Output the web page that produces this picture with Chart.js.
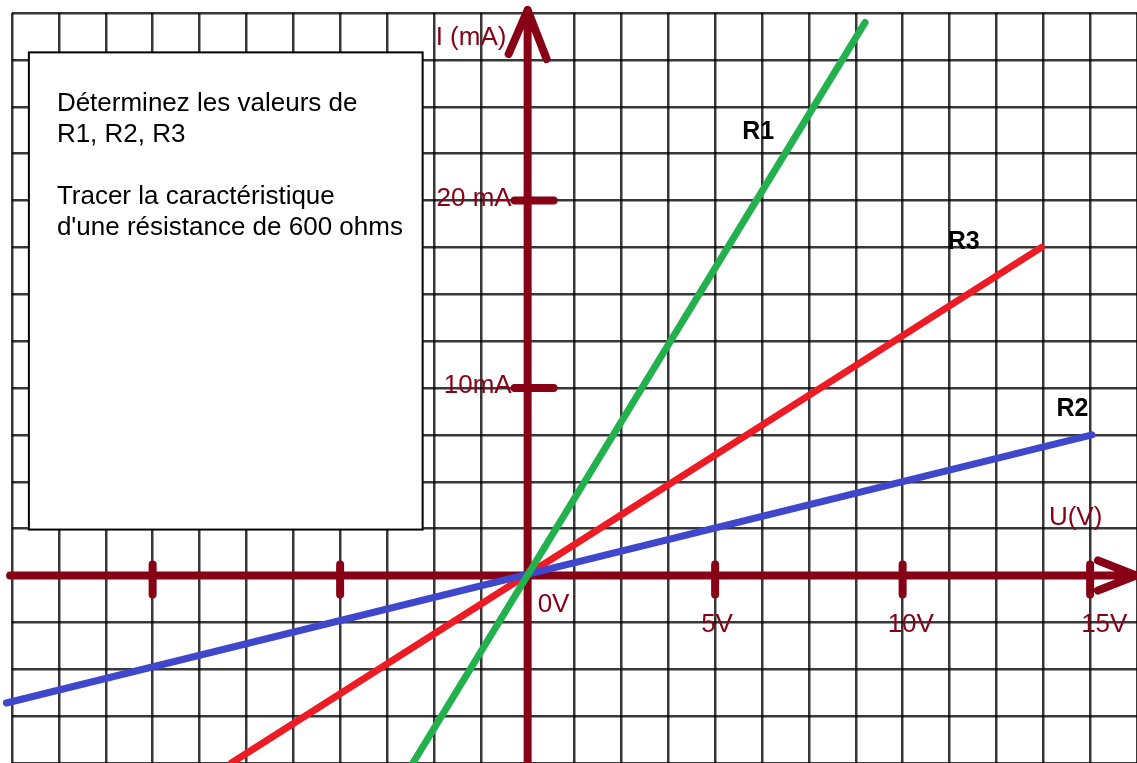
<!DOCTYPE html>
<html>
<head>
<meta charset="utf-8">
<script src="https://cdn.jsdelivr.net/npm/chart.js@4"></script>
<style>
  html, body { margin: 0; padding: 0; background: #fff; }
  #wrap { width: 1137px; height: 763px; position: relative; }
</style>
</head>
<body>
<div id="wrap"><canvas id="chart"></canvas></div>
<script>
// characteristics I = f(U), end points of each line (U in V, I in mA)
const r1U = [-3.06, 9.0];
const r1I = [-10, 29.5];
const r2U = [-13.9, 15.05];
const r2I = [-6.8, 7.5];
const r3U = [-7.9, 13.7];
const r3I = [-10, 17.5];
const seriesNames = ["R1", "R2", "R3"];

// graduations drawn on the axes
const uTicks = [-10, -5, 5, 10, 15];
const uTickLabels = ["", "", "5V", "10V", "15V"];
const iTicks = [10, 20];
const iTickLabels = ["10mA", "20 mA"];

const noteLines = [
  "Déterminez les valeurs de",
  "R1, R2, R3",
  "",
  "Tracer la caractéristique",
  "d'une résistance de 600 ohms"
];

// where the R labels sit (data units)
const nameU = [5.72, 14.1, 11.2];
const nameI = [23.3, 8.5, 17.4];

const DARK_RED = "#880015";
const colors = ["#22b14c", "#3f48cc", "#ed1c24"];

const toPoints = (us, is) => us.map((u, k) => ({ x: u, y: is[k] }));

const axesPlugin = {
  id: "axes",
  beforeDatasetsDraw(chart) {
    const { ctx, scales: { x, y } } = chart;
    const x0 = x.getPixelForValue(0);
    const y0 = y.getPixelForValue(0);
    ctx.save();

    // note box
    const bx = x.getPixelForValue(-13.3), by = y.getPixelForValue(27.9);
    const bx2 = x.getPixelForValue(-2.8), by2 = y.getPixelForValue(2.45);
    ctx.fillStyle = "#fff";
    ctx.fillRect(bx, by, bx2 - bx, by2 - by);
    ctx.strokeStyle = "#000";
    ctx.lineWidth = 2;
    ctx.strokeRect(bx, by, bx2 - bx, by2 - by);
    ctx.fillStyle = "#000";
    ctx.font = "26px 'Liberation Sans', Arial, sans-serif";
    ctx.textBaseline = "alphabetic";
    noteLines.forEach((t, k) => ctx.fillText(t, bx + 28, by + 59 + k * 31));

    // axis labels
    ctx.fillStyle = DARK_RED;
    ctx.font = "26px 'Liberation Sans', Arial, sans-serif";
    ctx.textAlign = "left";
    ctx.fillText("I (mA)", x0 - 92, y.top + 32);
    ctx.fillText("U(V)", x.getPixelForValue(13.9), y0 - 51);
    ctx.fillText("0V", x0 + 10, y0 + 36);
    const uOff = [0, 0, -14, -15, -9];
    uTicks.forEach((u, k) => {
      if (uTickLabels[k]) ctx.fillText(uTickLabels[k], x.getPixelForValue(u) + uOff[k], y0 + 56);
    });
    ctx.textAlign = "right";
    iTicks.forEach((v, k) => ctx.fillText(iTickLabels[k], x0 - 16, y.getPixelForValue(v) + 5));

    // axes with arrows
    ctx.strokeStyle = DARK_RED;
    ctx.lineWidth = 8;
    ctx.lineCap = "round";
    ctx.lineJoin = "round";
    const xl = x.getPixelForValue(-13.8), xr = x.getPixelForValue(x.max) - 1;
    const yt = y.getPixelForValue(y.max) - 3, yb = y.getPixelForValue(y.min) + 4;
    ctx.beginPath();
    ctx.moveTo(xl, y0); ctx.lineTo(xr, y0);
    ctx.moveTo(x0, yb); ctx.lineTo(x0, yt);
    // arrow heads
    ctx.moveTo(xr - 38, y0 - 15); ctx.lineTo(xr, y0); ctx.lineTo(xr - 38, y0 + 15);
    ctx.moveTo(x0 - 19, yt + 44); ctx.lineTo(x0, yt); ctx.lineTo(x0 + 19, yt + 49);
    // graduations
    uTicks.forEach(u => {
      const px = x.getPixelForValue(u);
      ctx.moveTo(px, y0 - 11); ctx.lineTo(px, y0 + 19);
    });
    iTicks.forEach(v => {
      const py = y.getPixelForValue(v);
      ctx.moveTo(x0 - 13, py); ctx.lineTo(x0 + 26, py);
    });
    ctx.stroke();
    ctx.restore();
  },
  afterDatasetsDraw(chart) {
    const { ctx, scales: { x, y } } = chart;
    ctx.save();
    ctx.fillStyle = "#000";
    ctx.font = "bold 25px 'Liberation Sans', Arial, sans-serif";
    seriesNames.forEach((n, k) => ctx.fillText(n, x.getPixelForValue(nameU[k]), y.getPixelForValue(nameI[k])));
    ctx.restore();
  }
};

const lineStyle = {
  showLine: true,
  pointRadius: 0,
  borderWidth: 7,
  borderCapStyle: "round",
  clip: false,
  fill: false
};

new Chart(document.getElementById("chart"), {
  type: "scatter",
  data: {
    datasets: [
      { label: seriesNames[0], data: toPoints(r1U, r1I), borderColor: colors[0], ...lineStyle },
      { label: seriesNames[1], data: toPoints(r2U, r2I), borderColor: colors[1], ...lineStyle },
      { label: seriesNames[2], data: toPoints(r3U, r3I), borderColor: colors[2], ...lineStyle }
    ]
  },
  options: {
    responsive: true,
    maintainAspectRatio: false,
    animation: false,
    layout: { padding: { left: 12, top: 13, right: 0, bottom: 0 } },
    plugins: { legend: { display: false }, tooltip: { enabled: false } },
    scales: {
      x: {
        type: "linear",
        min: -13.75,
        max: 16.25,
        ticks: { display: false, stepSize: 1.25 },
        grid: { color: "rgba(0,0,0,0.78)", lineWidth: 2.5, drawTicks: false },
        border: { display: false }
      },
      y: {
        type: "linear",
        min: -10,
        max: 30,
        ticks: { display: false, stepSize: 2.5 },
        grid: { color: "rgba(0,0,0,0.78)", lineWidth: 2.5, drawTicks: false },
        border: { display: false }
      }
    }
  },
  plugins: [axesPlugin]
});
</script>
</body>
</html>
